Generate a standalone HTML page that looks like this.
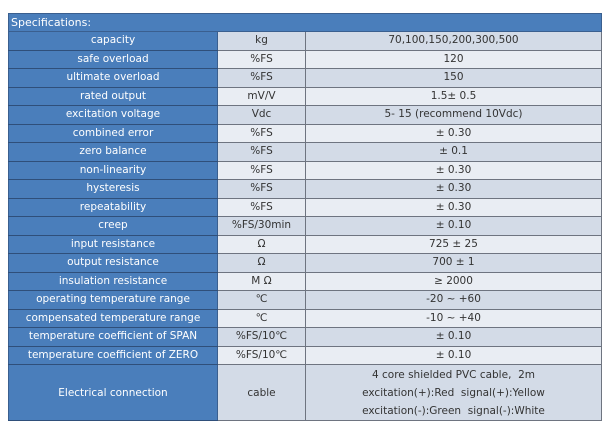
<!DOCTYPE html>
<html><head><style>
body{margin:0;background:#fff;width:610px;height:424px;overflow:hidden;font-family:"DejaVu Sans","Liberation Sans",sans-serif;}
table{position:absolute;left:8px;top:13px;width:594px;border-collapse:collapse;font-size:10.5px;table-layout:fixed}
td{border:1px solid #6e7480;text-align:center;padding:0;height:17.5px;color:#333;line-height:17px}
td.a{background:#4a7ebb;color:#fff;border-color:#3a5f8f;border-bottom:1px solid #2f4f7a}
table tr.h td.hd{background:#4a7ebb;color:#fff;text-align:left;padding-left:2px;font-size:11px;height:17px;border-color:#3a5f8f}
tr:nth-child(even) td:not(.a){background:#d3dbe7}
tr:nth-child(odd) td:not(.a){background:#e9edf3}
tr.e td{height:55px;line-height:18px}
</style></head><body>
<table>
<col style="width:209px"><col style="width:88px"><col>
<tr class="h"><td class="hd" colspan="3">Specifications:</td></tr>
<tr><td class="a">capacity</td><td>kg</td><td>70,100,150,200,300,500</td></tr>
<tr><td class="a">safe overload</td><td>%FS</td><td>120</td></tr>
<tr><td class="a">ultimate overload</td><td>%FS</td><td>150</td></tr>
<tr><td class="a">rated output</td><td>mV/V</td><td>1.5± 0.5</td></tr>
<tr><td class="a">excitation voltage</td><td>Vdc</td><td>5- 15 (recommend 10Vdc)</td></tr>
<tr><td class="a">combined error</td><td>%FS</td><td>± 0.30</td></tr>
<tr><td class="a">zero balance</td><td>%FS</td><td>± 0.1</td></tr>
<tr><td class="a">non-linearity</td><td>%FS</td><td>± 0.30</td></tr>
<tr><td class="a">hysteresis</td><td>%FS</td><td>± 0.30</td></tr>
<tr><td class="a">repeatability</td><td>%FS</td><td>± 0.30</td></tr>
<tr><td class="a">creep</td><td>%FS/30min</td><td>± 0.10</td></tr>
<tr><td class="a">input resistance</td><td>Ω</td><td>725 ± 25</td></tr>
<tr><td class="a">output resistance</td><td>Ω</td><td>700 ± 1</td></tr>
<tr><td class="a">insulation resistance</td><td>M Ω</td><td>≥ 2000</td></tr>
<tr><td class="a">operating temperature range</td><td>℃</td><td>-20 ~ +60</td></tr>
<tr><td class="a">compensated temperature range</td><td>℃</td><td>-10 ~ +40</td></tr>
<tr><td class="a">temperature coefficient of SPAN</td><td>%FS/10℃</td><td>± 0.10</td></tr>
<tr><td class="a">temperature coefficient of ZERO</td><td>%FS/10℃</td><td>± 0.10</td></tr>
<tr class="e"><td class="a">Electrical connection</td><td>cable</td><td>4 core shielded PVC cable,&nbsp; 2m<br>excitation(+):Red&nbsp; signal(+):Yellow<br>excitation(-):Green&nbsp; signal(-):White</td></tr>
</table>
</body></html>
